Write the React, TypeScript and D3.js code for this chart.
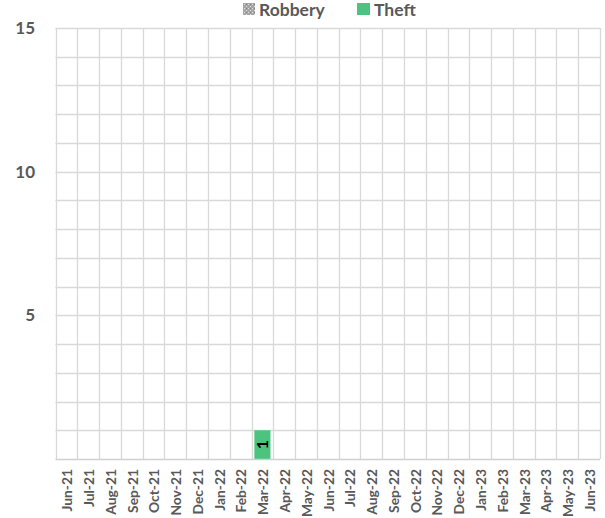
import React from "react";
import * as d3 from "d3";

const categories = [
  "Jun-21", "Jul-21", "Aug-21", "Sep-21", "Oct-21", "Nov-21", "Dec-21",
  "Jan-22", "Feb-22", "Mar-22", "Apr-22", "May-22", "Jun-22", "Jul-22",
  "Aug-22", "Sep-22", "Oct-22", "Nov-22", "Dec-22", "Jan-23", "Feb-23",
  "Mar-23", "Apr-23", "May-23", "Jun-23",
];
const robbery = [0, 0, 0, 0, 0, 0, 0, 0, 0, 0, 0, 0, 0, 0, 0, 0, 0, 0, 0, 0, 0, 0, 0, 0, 0];
const theft = [0, 0, 0, 0, 0, 0, 0, 0, 0, 1, 0, 0, 0, 0, 0, 0, 0, 0, 0, 0, 0, 0, 0, 0, 0];
const yTickLabels = [5, 10, 15];
const yGridValues = d3.range(0, 16, 1);
const seriesNames = ["Robbery", "Theft"];

const W = 605;
const H = 518;
const left = 55.5;
const right = 600;
const top = 28;
const bottom = 459;
const FONT = "Lato, 'Open Sans', sans-serif";
const TEXT = "#595959";
const GREEN = "#4cc47f";

export default function App() {
  const x = d3.scaleBand<string>().domain(categories).range([left, right]).paddingInner(0).paddingOuter(0);
  const y = d3.scaleLinear().domain([0, 15]).range([bottom, top]);
  const bw = x.bandwidth();
  const barW = bw * 0.74;

  const stacked = categories.map((c, i) => ({ c, r: robbery[i], t: theft[i] }));

  return (
    <svg width={W} height={H} style={{ position: "absolute", left: 0, top: 0, background: "#fff" }}>
      <defs>
        <pattern id="robPat" width="4" height="4" patternUnits="userSpaceOnUse">
          <rect width="4" height="4" fill="#a6a6a6" />
          <rect x="0" y="0" width="1" height="1" fill="#e0e0e0" />
          <rect x="2" y="2" width="1" height="1" fill="#e0e0e0" />
          <rect x="2" y="0" width="1" height="1" fill="#7f7f7f" />
        </pattern>
      </defs>
      {yGridValues.filter((v) => v > 0).map((v) => (
        <line key={"h" + v} x1={left} x2={right} y1={Math.round(y(v)) + 0.5} y2={Math.round(y(v)) + 0.5} stroke="#d9d9d9" strokeWidth={1.3} />
      ))}
      {categories.map((c) => (
        <line key={"v" + c} x1={Math.round(x(c)!) + 0.5} x2={Math.round(x(c)!) + 0.5} y1={top} y2={bottom} stroke="#d9d9d9" strokeWidth={1.3} />
      ))}
      <line x1={Math.round(right) + 0.5} x2={Math.round(right) + 0.5} y1={top} y2={bottom} stroke="#d9d9d9" strokeWidth={1.3} />
      {stacked.map((d) => {
        const cx = x(d.c)! + bw / 2;
        return (
          <g key={"b" + d.c}>
            {d.r > 0 && (
              <rect x={cx - barW / 2} y={y(d.r)} width={barW} height={y(0) - y(d.r)} fill="url(#robPat)" />
            )}
            {d.t > 0 && (
              <rect x={cx - barW / 2} y={y(d.r + d.t)} width={barW} height={y(d.r) - y(d.r + d.t)} fill={GREEN} />
            )}
            {d.t > 0 && (
              <text
                transform={`translate(${cx},${(y(d.r + d.t) + y(d.r)) / 2}) rotate(-90)`}
                textAnchor="middle"
                dy="0.35em"
                fontFamily={FONT}
                fontWeight="bold"
                fontSize={16}
                fill="#000"
              >
                {d.t}
              </text>
            )}
          </g>
        );
      })}
      <line x1={left} x2={right} y1={bottom + 0.5} y2={bottom + 0.5} stroke="#d0d0d0" strokeWidth={1.5} />
      {categories.map((c) => (
        <text
          key={"xl" + c}
          transform={`translate(${x(c)! + bw / 2 + 1},${bottom + 10}) rotate(-90)`}
          textAnchor="end"
          dy="0.35em"
          fontFamily={FONT}
          fontWeight="bold"
          fontSize={13.8}
          fill={TEXT}
        >
          {c}
        </text>
      ))}
      {yTickLabels.map((v) => (
        <text key={"yl" + v} x={35} y={y(v)} dy="0.36em" textAnchor="end" fontFamily={FONT} fontWeight="bold" fontSize={17} fill={TEXT}>
          {v}
        </text>
      ))}
      <g>
        <rect x={243} y={3} width={12} height={12} fill="url(#robPat)" />
        <text x={259} y={15.5} fontFamily={FONT} fontWeight="bold" fontSize={17.5} fill={TEXT}>
          {seriesNames[0]}
        </text>
        <rect x={357} y={3} width={13} height={12} fill={GREEN} />
        <text x={374} y={15.5} fontFamily={FONT} fontWeight="bold" fontSize={17.5} fill={TEXT}>
          {seriesNames[1]}
        </text>
      </g>
    </svg>
  );
}
